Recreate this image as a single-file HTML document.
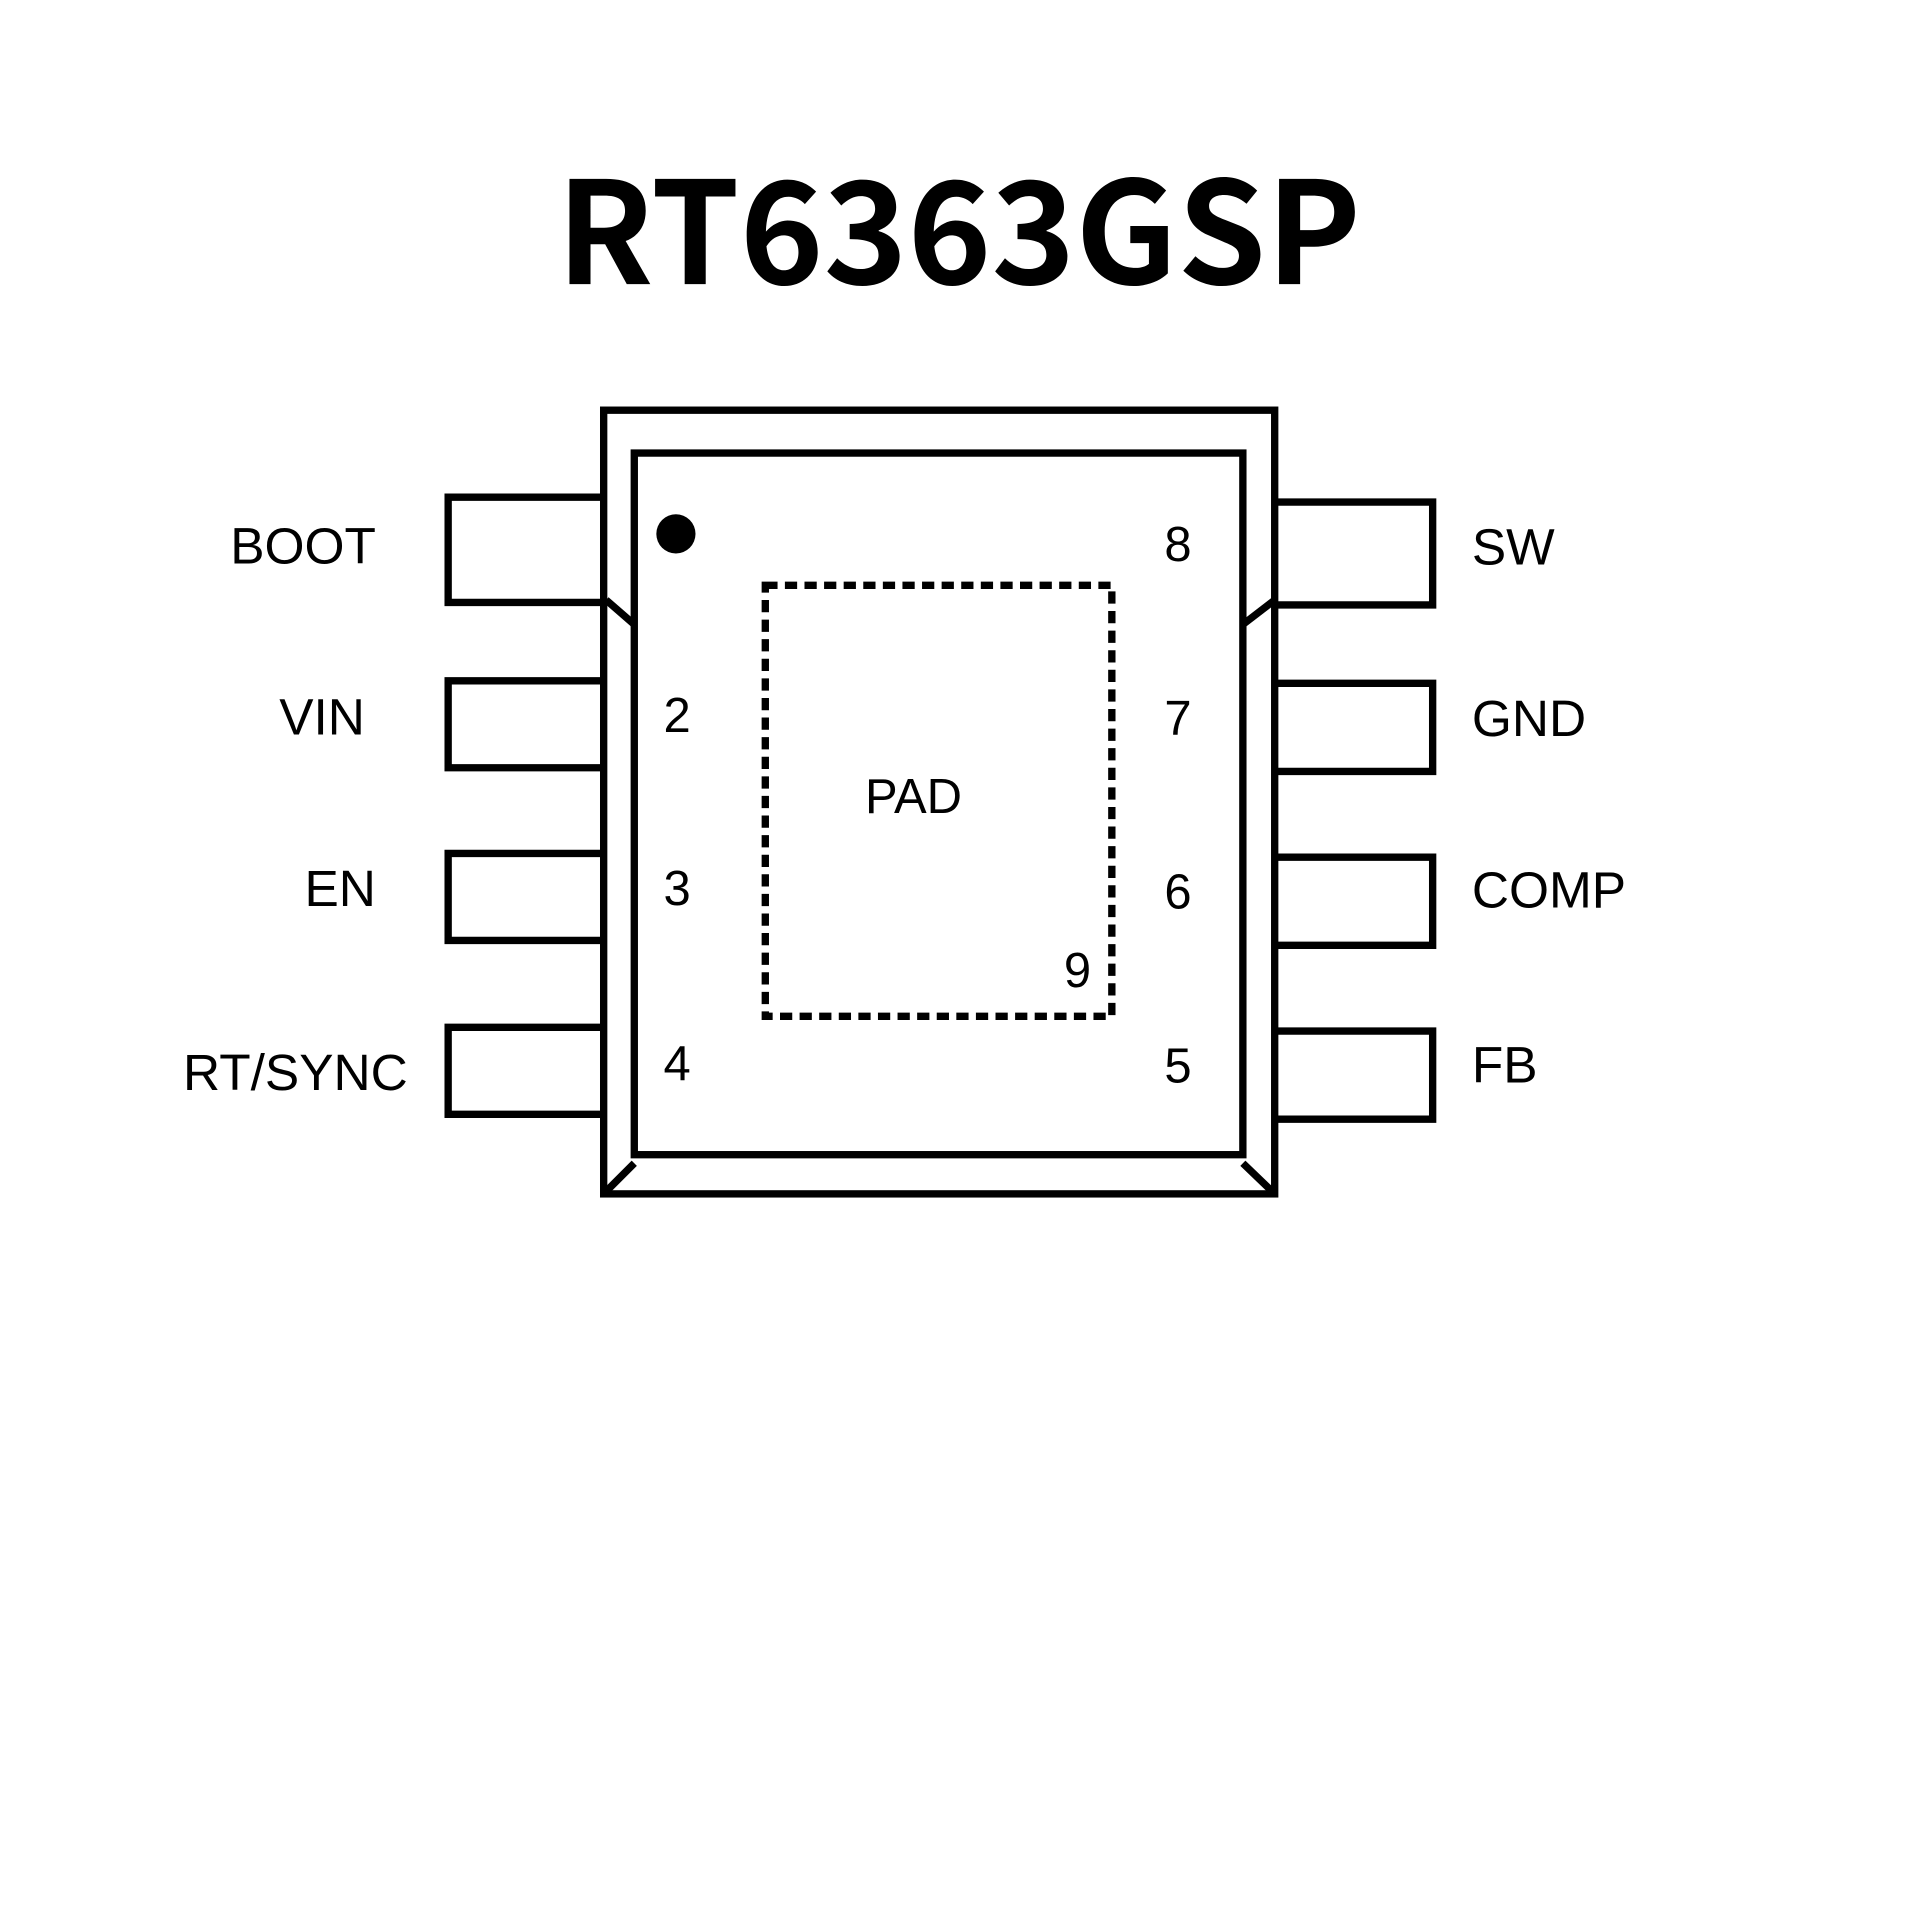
<!DOCTYPE html>
<html><head><meta charset="utf-8"><style>html,body{margin:0;padding:0;background:#fff}svg{display:block}</style></head>
<body>
<svg width="1920" height="1920" viewBox="0 0 1568 1568" xmlns="http://www.w3.org/2000/svg">
<rect width="1568" height="1568" fill="#fff"/>
<text x="783" y="232" text-anchor="middle" font-family="Noto Sans CJK SC, Liberation Sans, sans-serif" font-weight="bold" font-size="116" textLength="657" lengthAdjust="spacingAndGlyphs">RT6363GSP</text>
<g fill="none" stroke="#000" stroke-width="6">
<rect x="493" y="335" width="548" height="640"/>
<rect x="518" y="370" width="497" height="573"/>
<line x1="493" y1="975" x2="518" y2="950"/>
<line x1="1041" y1="975" x2="1015" y2="950"/>
<line x1="495" y1="490" x2="518" y2="510"/>
<line x1="1041" y1="490" x2="1015" y2="510"/>
<path d="M495 406 H366 V492 H495"/>
<path d="M495 556 H366 V627 H495"/>
<path d="M495 697 H366 V768 H495"/>
<path d="M495 839 H366 V910 H495"/>
<path d="M1041 410 H1170 V494 H1041"/>
<path d="M1041 558 H1170 V630 H1041"/>
<path d="M1041 700 H1170 V772 H1041"/>
<path d="M1041 842 H1170 V914 H1041"/>
<rect x="625" y="478" width="283" height="352" stroke-dasharray="10,6"/>
</g>
<circle cx="552" cy="436" r="16" fill="#000"/>
<g font-family="Liberation Sans, sans-serif" font-size="40" text-anchor="middle">
<text x="553" y="598">2</text><text x="553" y="739">3</text><text x="553" y="882">4</text>
<text x="962" y="458">8</text><text x="962" y="600">7</text><text x="962" y="742">6</text><text x="962" y="884">5</text>
<text x="880" y="806">9</text><text x="746" y="664">PAD</text>
</g>
<g font-family="Liberation Sans, sans-serif" font-size="42" text-anchor="end">
<text x="307" y="460">BOOT</text><text x="298" y="600">VIN</text><text x="307" y="740">EN</text><text x="333" y="890">RT/SYNC</text>
</g>
<g font-family="Liberation Sans, sans-serif" font-size="42">
<text x="1202" y="461">SW</text><text x="1202" y="601">GND</text><text x="1202" y="741">COMP</text><text x="1202" y="884">FB</text>
</g>
</svg>
</body></html>
